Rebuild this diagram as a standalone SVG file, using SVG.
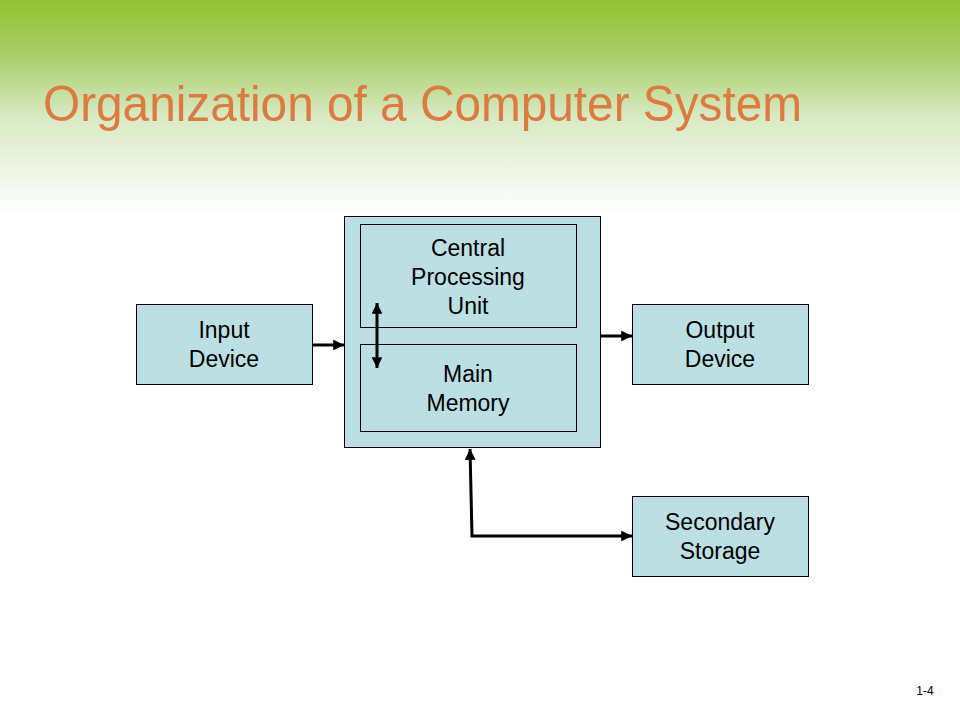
<svg xmlns="http://www.w3.org/2000/svg" width="960" height="720" viewBox="0 0 960 720">
<defs>
<linearGradient id="bg" x1="0" y1="0" x2="0" y2="1">
<stop offset="0" stop-color="#92C332"/>
<stop offset="0.25" stop-color="#A8CD66"/>
<stop offset="0.55" stop-color="#D9EAC6"/>
<stop offset="1" stop-color="#FFFFFF"/>
</linearGradient>
<marker id="ah" viewBox="0 0 10 10" refX="10" refY="5" markerWidth="3.6" markerHeight="3.6" orient="auto-start-reverse" markerUnits="strokeWidth">
<path d="M0,0 L10,5 L0,10 z" fill="#000"/>
</marker>
<style>
.box{fill:#BCDFE3;stroke:#000;stroke-width:1}
.lbl{font-family:"Liberation Sans",Arial,sans-serif;font-size:23px;fill:#000;text-anchor:middle}
.con{stroke:#000;stroke-width:3;fill:none}
</style>
</defs>
<rect x="0" y="0" width="960" height="720" fill="#fff"/>
<rect x="0" y="0" width="960" height="215" fill="url(#bg)"/>
<text x="43" y="121" font-family="'Liberation Sans',Arial,sans-serif" font-size="50" fill="#DD7A40" textLength="759" lengthAdjust="spacingAndGlyphs">Organization of a Computer System</text>

<g id="computer">
<rect class="box" x="344.5" y="216.5" width="256" height="231"/>
</g>
<g id="cpu">
<rect class="box" x="360.5" y="224.5" width="216" height="103"/>
<text class="lbl" x="468" y="256">Central</text>
<text class="lbl" x="468" y="285">Processing</text>
<text class="lbl" x="468" y="314">Unit</text>
</g>
<g id="memory">
<rect class="box" x="360.5" y="344.5" width="216" height="87"/>
<text class="lbl" x="468" y="382">Main</text>
<text class="lbl" x="468" y="411">Memory</text>
</g>
<g id="input">
<rect class="box" x="136.5" y="304.5" width="176" height="80"/>
<text class="lbl" x="224" y="338">Input</text>
<text class="lbl" x="224" y="367">Device</text>
</g>
<g id="output">
<rect class="box" x="632.5" y="304.5" width="176" height="80"/>
<text class="lbl" x="720" y="338">Output</text>
<text class="lbl" x="720" y="367">Device</text>
</g>
<g id="storage">
<rect class="box" x="632.5" y="496.5" width="176" height="80"/>
<text class="lbl" x="720" y="530">Secondary</text>
<text class="lbl" x="720" y="559">Storage</text>
</g>

<g id="connectors">
<line class="con" x1="313" y1="345" x2="344" y2="345" marker-end="url(#ah)"/>
<line class="con" x1="601" y1="336" x2="632" y2="336" marker-end="url(#ah)"/>
<line class="con" x1="377" y1="303" x2="377" y2="368" marker-start="url(#ah)" marker-end="url(#ah)"/>
<polyline class="con" points="470,449 472,536 632,536" marker-start="url(#ah)" marker-end="url(#ah)"/>
</g>

<text x="925" y="695" font-family="'Liberation Sans',Arial,sans-serif" font-size="12" fill="#000" text-anchor="middle">1-4</text>
</svg>
